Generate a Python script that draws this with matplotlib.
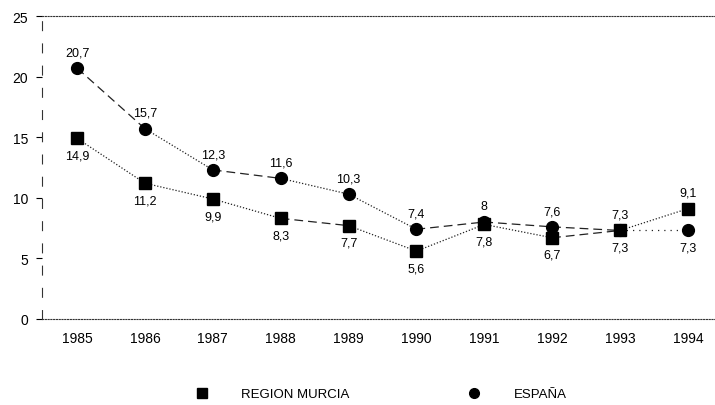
import matplotlib
matplotlib.use("Agg")
import matplotlib.pyplot as plt
from matplotlib.lines import Line2D

plt.rcParams['font.family'] = ['Liberation Sans', 'DejaVu Sans']

years = [1985, 1986, 1987, 1988, 1989, 1990, 1991, 1992, 1993, 1994]
murcia = [14.9, 11.2, 9.9, 8.3, 7.7, 5.6, 7.8, 6.7, 7.3, 9.1]
espana = [20.7, 15.7, 12.3, 11.6, 10.3, 7.4, 8.0, 7.6, 7.3, 7.3]
murcia_labels = ['14,9', '11,2', '9,9', '8,3', '7,7', '5,6', '7,8', '6,7', '7,3', '9,1']
espana_labels = ['20,7', '15,7', '12,3', '11,6', '10,3', '7,4', '8', '7,6', '7,3', '7,3']
yticks = [0, 5, 10, 15, 20, 25]

# segment styles, as the scan shows them
DASH = (0, (7, 4))
DOT = (0, (1, 1.5))
esp_seg = [DASH, DOT, DASH, DOT, DOT, DASH, DASH, DASH, (0, (1, 4))]
mur_seg = [DOT, DOT, DOT, DASH, DOT, DOT, DOT, DASH, DOT]

fig = plt.figure(figsize=(7.15, 4.06), dpi=100)
ax = fig.add_axes([0.059, 0.212, 0.941, 0.746])

def draw(ax, xs, ys, segs, marker, ms):
    for i, ls in enumerate(segs):
        ax.plot(xs[i:i + 2], ys[i:i + 2], color='#222222', lw=0.9, ls=ls)
    ax.plot(xs, ys, ls='none', marker=marker, ms=ms, color='black', zorder=3)

draw(ax, years, espana, esp_seg, 'o', 8.5)
draw(ax, years, murcia, mur_seg, 's', 8)

for x, m, e, ml, el in zip(years, murcia, espana, murcia_labels, espana_labels):
    if e >= m:
        top, bot = (e, el), (m, ml)
    else:
        top, bot = (m, ml), (e, el)
    ax.annotate(top[1], (x, top[0]), xytext=(0, 7), textcoords='offset points',
                ha='center', va='bottom', fontsize=9)
    ax.annotate(bot[1], (x, bot[0]), xytext=(0, -8), textcoords='offset points',
                ha='center', va='top', fontsize=9)

ax.set_xlim(1984.485, 1994.4)
ax.set_ylim(0, 25)
ax.set_xticks(years)
ax.set_yticks(yticks)
ax.tick_params(axis='x', length=0, pad=9, labelsize=10)
ax.tick_params(axis='y', length=4, width=0.8, pad=6, labelsize=10)

ax.spines['right'].set_visible(False)
ax.spines['top'].set_linestyle((0, (1, 1.5)))
ax.spines['bottom'].set_linestyle((0, (1, 1.5)))
ax.spines['left'].set_linestyle((0, (8, 12)))
for s in ['top', 'bottom', 'left']:
    ax.spines[s].set_linewidth(0.8)
    ax.spines[s].set_color('#333333')

handles = [Line2D([], [], ls='none', marker='s', ms=7, color='black'),
           Line2D([], [], ls='none', marker='o', ms=7, color='black')]
fig.legend(handles, ['REGION MURCIA', 'ESPAÑA'], loc='lower center',
           bbox_to_anchor=(0.528, -0.018), ncol=2, frameon=False, fontsize=9.5,
           handletextpad=2.0, columnspacing=8.4)

fig.savefig('out.png', dpi=100)
